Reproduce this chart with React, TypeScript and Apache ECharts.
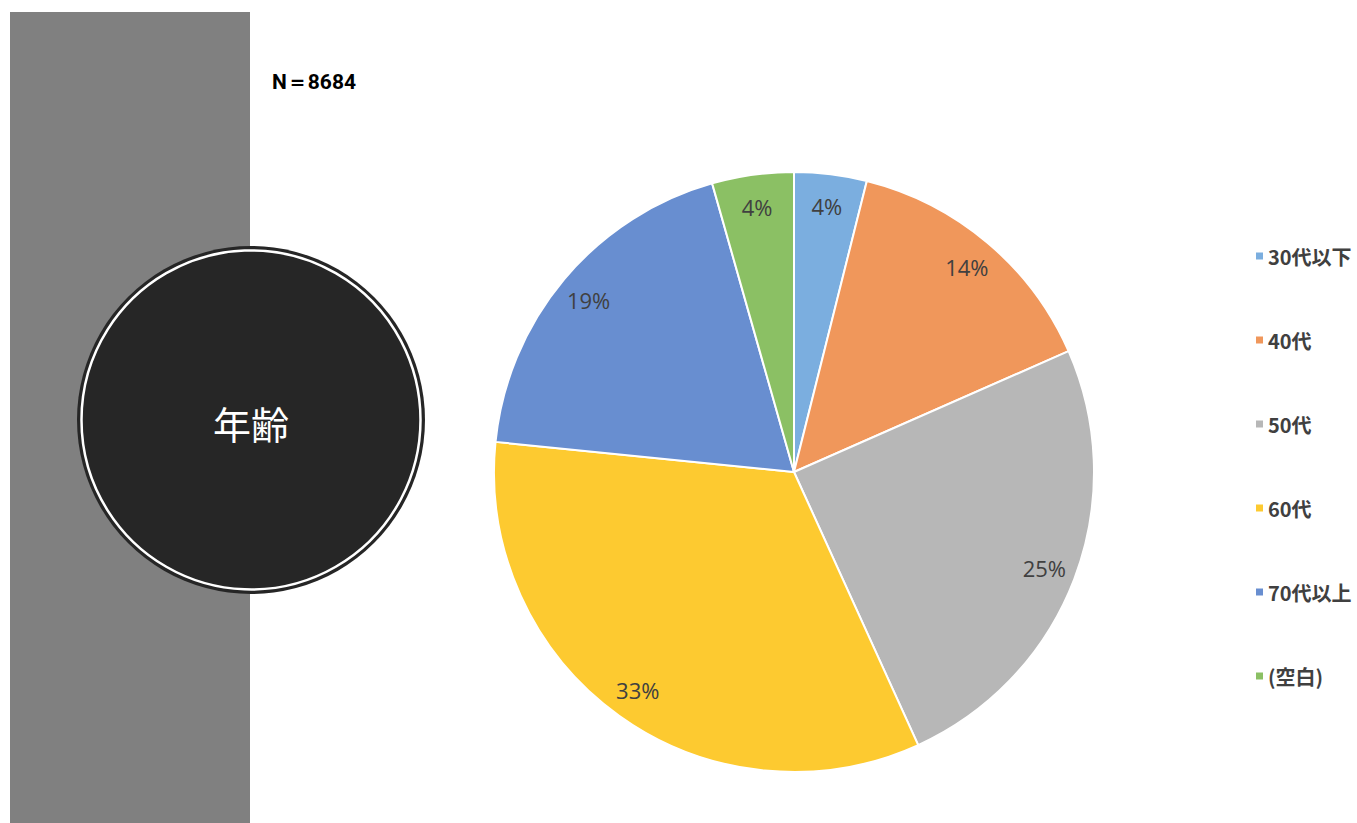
import React, { useEffect, useRef } from "react";
import * as echarts from "echarts";

const categories = ["30代以下", "40代", "50代", "60代", "70代以上", "(空白)"];
const values = [339, 1259, 2154, 2900, 1650, 382];
const colors = ["#7BAEDF", "#F0975B", "#B7B7B7", "#FDCA30", "#688ED0", "#8BC064"];
const totalLabel = "N＝8684";
const sideTitle = "年齢";

export default function App() {
  const ref = useRef<HTMLDivElement>(null);
  useEffect(() => {
    if (!ref.current) return;
    const chart = echarts.init(ref.current, undefined, { renderer: "svg" });
    const total = values.reduce((a, b) => a + b, 0);
    const data = categories.map((name, i) => ({ name, value: values[i], itemStyle: { color: colors[i] } }));
    chart.setOption({
      animation: false,
      backgroundColor: "#ffffff",
      graphic: [
        { type: "rect", shape: { x: 10, y: 12, width: 240, height: 811 }, style: { fill: "#808080" }, z: 0 },
        { type: "circle", shape: { cx: 251, cy: 420, r: 174 }, style: { fill: "#262626" }, z: 1 },
        { type: "circle", shape: { cx: 251, cy: 420, r: 169.5 }, style: { fill: "none", stroke: "#ffffff", lineWidth: 2.5 }, z: 2 },
        {
          type: "text", x: 251, y: 422, z: 3,
          style: { text: sideTitle, fill: "#ffffff", font: '38px "Noto Sans CJK JP"', textAlign: "center", textVerticalAlign: "middle" },
        },
        {
          type: "text", x: 272, y: 82, z: 3,
          style: { text: totalLabel, fill: "#000000", font: 'bold 21px Roboto, sans-serif', textAlign: "left", textVerticalAlign: "middle" },
        },
      ],
      legend: {
        orient: "vertical",
        left: 1249,
        top: 240,
        itemWidth: 9,
        itemHeight: 9,
        itemGap: 62,
        icon: "rect",
        data: categories,
        textStyle: { fontSize: 20, fontWeight: "bold", color: "#404040", fontFamily: '"Noto Sans CJK JP", sans-serif', lineHeight: 22, padding: [0, 0, 0, -1] },
      },
      series: [
        {
          type: "pie",
          center: [794, 472],
          radius: [0, 300],
          startAngle: 90,
          clockwise: true,
          label: { show: false },
          labelLine: { show: false },
          itemStyle: { borderColor: "#ffffff", borderWidth: 2 },
          emphasis: { disabled: true },
          data,
        },
        {
          type: "pie",
          center: [794, 472],
          radius: [230, 300],
          startAngle: 90,
          clockwise: true,
          silent: true,
          legendHoverLink: false,
          itemStyle: { color: "rgba(0,0,0,0)", borderWidth: 0 },
          label: {
            show: true,
            position: "inside",
            formatter: (p: any) => Math.round((p.value / total) * 100) + "%",
            fontSize: 22,
            color: "#404040",
            fontFamily: '"Open Sans", sans-serif',
          },
          labelLine: { show: false },
          emphasis: { disabled: true },
          data: categories.map((name, i) => ({ name: name + " ", value: values[i] })),
        },
      ],
    });
    return () => chart.dispose();
  }, []);
  return <div ref={ref} style={{ position: "absolute", left: 0, top: 0, width: 1357, height: 823 }} />;
}
